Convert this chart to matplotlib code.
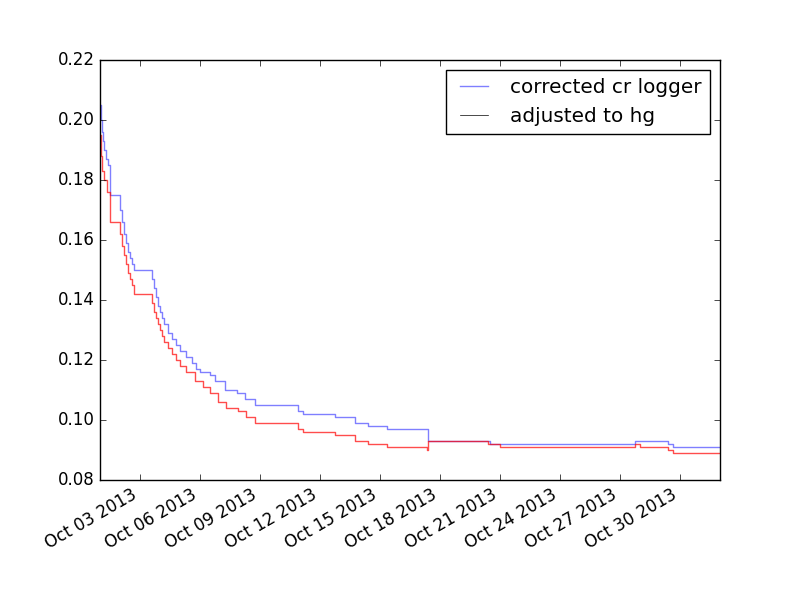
import datetime as dt

import matplotlib
matplotlib.use("Agg")
import matplotlib.pyplot as plt
import matplotlib.dates as mdates
from matplotlib.lines import Line2D

plt.style.use("classic")

start = dt.datetime(2013, 10, 1)

# days since Oct 1 2013, value (step-post)
cr_days = [0.0, 0.05, 0.1, 0.15, 0.2, 0.3, 0.4, 0.5, 1.0, 1.1, 1.2, 1.3, 1.4, 1.5,
           1.6, 1.7, 1.8, 2.6, 2.7, 2.8, 2.9, 3.0, 3.1, 3.2, 3.4, 3.6, 3.8, 4.0,
           4.3, 4.6, 4.8, 5.0, 5.5, 5.75, 6.25, 6.85, 7.25, 7.75, 9.9, 10.15,
           11.75, 12.75, 13.4, 14.35, 16.4, 19.5, 26.75, 28.4, 28.65, 31.0]
cr_vals = [0.205, 0.200, 0.196, 0.193, 0.190, 0.187, 0.185, 0.175, 0.170, 0.166,
           0.162, 0.159, 0.156, 0.154, 0.152, 0.150, 0.150, 0.147, 0.144, 0.141,
           0.138, 0.136, 0.134, 0.132, 0.129, 0.127, 0.125, 0.123, 0.121, 0.119,
           0.117, 0.116, 0.115, 0.113, 0.110, 0.109, 0.107, 0.105, 0.103, 0.102,
           0.101, 0.099, 0.098, 0.097, 0.093, 0.092, 0.093, 0.092, 0.091, 0.091]

hg_days = [0.0, 0.05, 0.1, 0.2, 0.35, 0.5, 1.0, 1.1, 1.2, 1.3, 1.4, 1.5, 1.6, 1.7,
           1.8, 2.6, 2.7, 2.8, 2.9, 3.0, 3.1, 3.2, 3.4, 3.6, 3.8, 4.0, 4.3, 4.75,
           5.15, 5.5, 5.9, 6.3, 6.9, 7.3, 7.75, 9.9, 10.15, 11.75, 12.75, 13.4,
           14.35, 16.35, 16.4, 19.4, 20.0, 26.75, 27.0, 28.4, 28.65, 31.0]
hg_vals = [0.195, 0.188, 0.183, 0.180, 0.176, 0.166, 0.162, 0.158, 0.155, 0.152,
           0.149, 0.147, 0.145, 0.142, 0.142, 0.139, 0.136, 0.134, 0.132, 0.130,
           0.128, 0.126, 0.124, 0.122, 0.120, 0.118, 0.116, 0.113, 0.111, 0.109,
           0.106, 0.104, 0.103, 0.101, 0.099, 0.097, 0.096, 0.095, 0.093, 0.092,
           0.091, 0.090, 0.093, 0.092, 0.091, 0.092, 0.091, 0.090, 0.089, 0.089]

cr_t = [start + dt.timedelta(days=d) for d in cr_days]
hg_t = [start + dt.timedelta(days=d) for d in hg_days]

fig, ax = plt.subplots(figsize=(8, 6), dpi=100)
ax.plot(cr_t, cr_vals, color="blue", alpha=0.5, drawstyle="steps-post")
ax.plot(hg_t, hg_vals, color="red", alpha=0.7, drawstyle="steps-post")

ax.set_ylim(0.08, 0.22)
ax.set_xlim(start, start + dt.timedelta(days=31))
ax.xaxis.set_major_locator(mdates.DayLocator(bymonthday=[3, 6, 9, 12, 15, 18, 21, 24, 27, 30]))
ax.xaxis.set_major_formatter(mdates.DateFormatter("%b %d %Y"))
fig.autofmt_xdate()

handles = [Line2D([], [], color="blue", alpha=0.5),
           Line2D([], [], color="black", lw=0.5)]
ax.legend(handles, ["corrected cr logger", "adjusted to hg"], loc="upper right")

fig.savefig("out.png", dpi=100)
